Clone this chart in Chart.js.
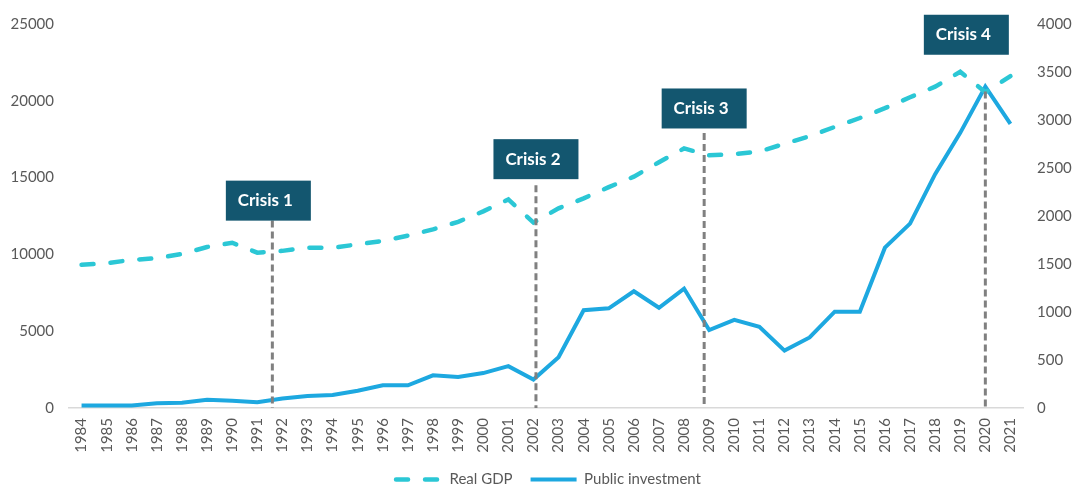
<!doctype html>
<html lang="en">
<head>
  <meta charset="utf-8">
  <title>Real GDP and public investment</title>
  <script src="https://cdn.jsdelivr.net/npm/chart.js"></script>
  <style>
    html, body { margin: 0; padding: 0; background: #fff; }
  </style>
</head>
<body>
  <canvas id="chart" width="1073" height="489"></canvas>

  <script>
    // === DATA ===
    const years = ['1984', '1985', '1986', '1987', '1988', '1989', '1990', '1991', '1992', '1993',
      '1994', '1995', '1996', '1997', '1998', '1999', '2000', '2001', '2002', '2003',
      '2004', '2005', '2006', '2007', '2008', '2009', '2010', '2011', '2012', '2013',
      '2014', '2015', '2016', '2017', '2018', '2019', '2020', '2021'];

    // left axis
    const realGdp = [9320, 9430, 9640, 9750, 10030, 10480, 10760, 10110, 10230, 10440,
      10440, 10650, 10880, 11220, 11630, 12120, 12800, 13580, 12070, 13000,
      13650, 14380, 15060, 16000, 16900, 16450, 16520, 16700, 17200, 17700,
      18300, 18880, 19520, 20230, 20920, 21890, 20560, 21600];

    // right axis
    const publicInvestment = [25, 25, 25, 50, 55, 85, 75, 60, 100, 125,
      135, 180, 237, 237, 340, 323, 364, 436, 296, 530,
      1018, 1038, 1216, 1044, 1244, 812, 918, 846, 598, 735,
      1003, 1003, 1670, 1921, 2436, 2866, 3348, 2959];

    const leftTicks = [0, 5000, 10000, 15000, 20000, 25000];
    const rightTicks = [0, 500, 1000, 1500, 2000, 2500, 3000, 3500, 4000];

    const crisisLabels = ['Crisis 1', 'Crisis 2', 'Crisis 3', 'Crisis 4'];
    const crisisYears = [1991.6, 2002.1, 2008.8, 2020];

    // === CRISIS MARKERS (placed on the left-axis scale) ===
    const crisisLayout = {
      boxLevel: [13500, 16200, 19500, 24300],   // box centre, left-axis units
      lineTop: [12200, 14500, 17900, 20600],    // where the dashed line starts
      boxShift: [-4, 0, 0, -19],                // px, box centre vs line
      boxW: 85,
      boxH: 40
    };

    const TEXT = '#595959';
    const FONT = 'Lato, "Open Sans", sans-serif';

    function xForYear(scale, yr) {
      const idx = yr - Number(years[0]);
      const i0 = Math.min(Math.floor(idx), years.length - 2);
      const p0 = scale.getPixelForValue(i0);
      const p1 = scale.getPixelForValue(i0 + 1);
      return p0 + (idx - i0) * (p1 - p0);
    }

    const crisisPlugin = {
      id: 'crisis',
      afterDatasetsDraw(chart) {
        const { ctx, scales: { x, y } } = chart;
        const base = y.getPixelForValue(0);
        crisisYears.forEach((yr, i) => {
          const px = xForYear(x, yr);

          // dashed guide line
          ctx.save();
          ctx.strokeStyle = '#808080';
          ctx.lineWidth = 3;
          ctx.setLineDash([7, 4]);
          ctx.beginPath();
          ctx.moveTo(px, y.getPixelForValue(crisisLayout.lineTop[i]));
          ctx.lineTo(px, base);
          ctx.stroke();
          ctx.restore();

          // label box
          const cx = px + crisisLayout.boxShift[i];
          const cy = y.getPixelForValue(crisisLayout.boxLevel[i]);
          ctx.save();
          ctx.fillStyle = '#13566F';
          ctx.fillRect(cx - crisisLayout.boxW / 2, cy - crisisLayout.boxH / 2, crisisLayout.boxW, crisisLayout.boxH);
          ctx.fillStyle = '#ffffff';
          ctx.font = 'bold 17px ' + FONT;
          ctx.textAlign = 'center';
          ctx.textBaseline = 'middle';
          ctx.fillText(crisisLabels[i], cx - 3, cy);
          ctx.restore();
        });
      }
    };

    // legend: keep the dataset dash pattern on the line sample
    function legendLabels(chart) {
      return Chart.defaults.plugins.legend.labels.generateLabels(chart).map((item, i) => {
        const ds = chart.data.datasets[i];
        item.lineDash = ds.borderDash || [];
        item.lineCap = ds.borderCapStyle || 'butt';
        item.strokeStyle = ds.borderColor;
        item.lineWidth = ds.borderWidth;
        return item;
      });
    }

    // === CHART ===
    new Chart(document.getElementById('chart'), {
      type: 'line',
      data: {
        labels: years,
        datasets: [
          {
            label: 'Real GDP',
            data: realGdp,
            yAxisID: 'y',
            borderColor: '#2BC7D5',
            backgroundColor: '#2BC7D5',
            borderWidth: 4.5,
            borderDash: [12, 17],
            borderCapStyle: 'round',
            pointRadius: 0,
            tension: 0
          },
          {
            label: 'Public investment',
            data: publicInvestment,
            yAxisID: 'y1',
            borderColor: '#1DA8E0',
            backgroundColor: '#1DA8E0',
            borderWidth: 4,
            pointRadius: 0,
            tension: 0
          }
        ]
      },
      options: {
        responsive: false,
        animation: false,
        // right side runs past the canvas so the legend centres a little right
        layout: { padding: { top: 20, bottom: -8, left: 0, right: -24 } },
        scales: {
          x: {
            offset: true,
            grid: { display: false, drawTicks: false },
            border: { display: true, color: '#D9D9D9', width: 1.5 },
            ticks: {
              color: TEXT,
              font: { family: FONT, size: 15 },
              minRotation: 90,
              maxRotation: 90,
              autoSkip: false,
              padding: 10
            },
            afterFit: s => { s.height = 46; }
          },
          y: {
            position: 'left',
            min: 0,
            max: 25000,
            grid: { display: false, drawTicks: false },
            border: { display: false },
            ticks: {
              color: TEXT,
              font: { family: FONT, size: 15 },
              padding: 15,
              callback: v => String(v)
            },
            afterBuildTicks: s => { s.ticks = leftTicks.map(v => ({ value: v })); },
            afterFit: s => { s.width = 69; }
          },
          y1: {
            position: 'right',
            min: 0,
            max: 4000,
            grid: { display: false, drawTicks: false },
            border: { display: false },
            ticks: {
              color: TEXT,
              font: { family: FONT, size: 15 },
              padding: 14,
              callback: v => String(v)
            },
            afterBuildTicks: s => { s.ticks = rightTicks.map(v => ({ value: v })); },
            afterFit: s => { s.width = 74; }
          }
        },
        plugins: {
          legend: {
            position: 'bottom',
            labels: {
              usePointStyle: true,
              pointStyle: 'line',
              pointStyleWidth: 46,
              color: TEXT,
              font: { family: FONT, size: 15 },
              padding: 18,
              generateLabels: legendLabels
            }
          },
          tooltip: { enabled: false }
        }
      },
      plugins: [crisisPlugin]
    });
  </script>
</body>
</html>
